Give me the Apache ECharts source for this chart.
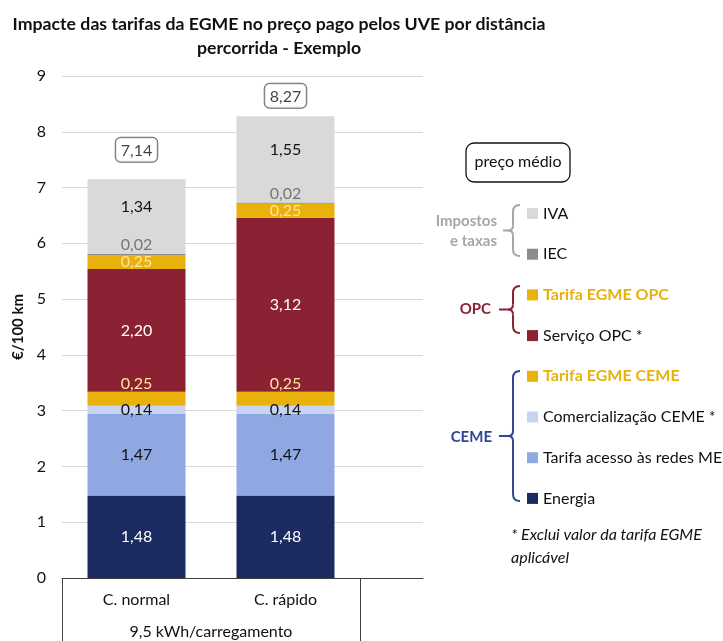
<!DOCTYPE html>
<html>
<head>
<meta charset="utf-8">
<script src="https://cdn.jsdelivr.net/npm/echarts@6/dist/echarts.min.js"></script>
<style>
  html, body { margin: 0; padding: 0; background: #fff; }
  #chart { width: 723px; height: 641px; }
</style>
</head>
<body>
<div id="chart"></div>
<script>
const categories = ['C. normal', 'C. rápido']
const groupLabel = '9,5 kWh/carregamento'

// stack order, bottom to top
const energia = [1.48, 1.48]
const acessoRedes = [1.47, 1.47]
const comercializacao = [0.14, 0.14]
const egmeCeme = [0.25, 0.25]
const servicoOpc = [2.20, 3.12]
const egmeOpc = [0.25, 0.25]
const iec = [0.02, 0.02]
const iva = [1.34, 1.55]
const totals = [7.14, 8.27]

const yTicks = [0, 1, 2, 3, 4, 5, 6, 7, 8, 9]

const FONT = 'Lato, "Open Sans", sans-serif'
const FS = 16
const fmt = v => v.toFixed(2).replace('.', ',')

const myChart = echarts.init(document.getElementById('chart'))

function stackSeries (name, data, color, label) {
  return {
    name,
    type: 'bar',
    stack: 'total',
    xAxisIndex: 1,
    yAxisIndex: 1,
    barWidth: 98,
    data,
    itemStyle: { color },
    label: Object.assign({
      show: true,
      fontFamily: FONT,
      fontSize: FS,
      formatter: p => fmt(p.value)
    }, label)
  }
}

// curly brace, opening to the right
function brace (x, y1, y2, tipX, color) {
  const ym = (y1 + y2) / 2
  const st = { stroke: color, lineWidth: 2, fill: null }
  const curve = (x1, yA, x2, yB, cx, cy) => ({ type: 'bezierCurve', shape: { x1, y1: yA, x2, y2: yB, cpx1: cx, cpy1: cy }, style: st })
  const line = (x1, yA, x2, yB) => ({ type: 'line', shape: { x1, y1: yA, x2, y2: yB }, style: st })
  return {
    type: 'group',
    children: [
      curve(x + 7, y1, x, y1 + 7, x, y1),
      line(x, y1 + 7, x, ym - 5),
      curve(x, ym - 5, x - 5, ym, x, ym),
      line(x - 5, ym, tipX, ym),
      curve(x - 5, ym, x, ym + 5, x, ym),
      line(x, ym + 5, x, y2 - 7),
      curve(x, y2 - 7, x + 7, y2, x, y2)
    ]
  }
}

const EGME = '#E9B10C'
// the two total boxes sit at different heights above their bars
const totalGap = [18, 9]

const option = {
  animation: false,
  textStyle: { fontFamily: FONT },
  title: {
    text: 'Impacte das tarifas da EGME no preço pago pelos UVE por distância\npercorrida - Exemplo',
    left: 274,
    top: 7,
    textAlign: 'center',
    textStyle: { fontFamily: FONT, fontSize: 17.7, fontWeight: 'bold', color: '#111', lineHeight: 24 }
  },
  legend: {
    orient: 'vertical',
    left: 522,
    top: 200,
    itemWidth: 11,
    itemHeight: 11,
    itemGap: 23.7,
    icon: 'rect',
    selectedMode: false,
    data: ['IVA', 'IEC', 'Tarifa EGME OPC', 'Serviço OPC *', 'Tarifa EGME CEME',
      'Comercialização CEME *', 'Tarifa acesso às redes ME', 'Energia'],
    formatter: name => name.startsWith('Tarifa EGME') ? `{b|${name}}` : name,
    textStyle: {
      fontFamily: FONT,
      fontSize: FS,
      color: '#111',
      lineHeight: 17,
      rich: { b: { color: EGME, fontWeight: 'bold', fontSize: FS, fontFamily: FONT } }
    }
  },
  grid: [
    { left: 62, right: 300, top: 76, bottom: 63 },
    { left: 62, width: 298, top: 76, bottom: 63 }
  ],
  xAxis: [
    {
      gridIndex: 0,
      type: 'category',
      data: [''],
      axisTick: { show: false },
      axisLabel: { show: false },
      axisLine: { show: true, lineStyle: { color: '#404040', width: 1 } }
    },
    {
      gridIndex: 1,
      type: 'category',
      data: categories,
      axisTick: { show: false },
      axisLine: { show: false },
      axisLabel: { fontFamily: FONT, fontSize: FS, color: '#111', margin: 14 }
    }
  ],
  yAxis: [
    {
      gridIndex: 0,
      type: 'value',
      min: yTicks[0],
      max: yTicks[yTicks.length - 1],
      interval: 1,
      name: '€/100 km',
      nameLocation: 'middle',
      nameGap: 36,
      nameTextStyle: { fontFamily: FONT, fontSize: 15, fontWeight: 'bold', color: '#111' },
      axisLine: { show: false },
      axisTick: { show: false },
      axisLabel: { fontFamily: FONT, fontSize: FS, color: '#111', margin: 16 },
      splitLine: { lineStyle: { color: '#D9D9D9', width: 1 } }
    },
    {
      gridIndex: 1,
      type: 'value',
      min: yTicks[0],
      max: yTicks[yTicks.length - 1],
      show: false,
      splitLine: { show: false }
    }
  ],
  series: [
    stackSeries('Energia', energia, '#1B2A5F', { position: 'inside', color: '#fff' }),
    stackSeries('Tarifa acesso às redes ME', acessoRedes, '#8FA8E1', { position: 'inside', color: '#111' }),
    stackSeries('Comercialização CEME *', comercializacao, '#C8D4F1', { position: 'inside', color: '#111' }),
    stackSeries('Tarifa EGME CEME', egmeCeme, EGME, { position: 'top', distance: 0, color: '#FFE699' }),
    stackSeries('Serviço OPC *', servicoOpc, '#8B2234', { position: 'inside', color: '#fff' }),
    stackSeries('Tarifa EGME OPC', egmeOpc, EGME, { position: 'inside', color: '#FFE699' }),
    stackSeries('IEC', iec, '#8C8C8C', { position: 'top', distance: 1, color: '#767676' }),
    stackSeries('IVA', iva, '#D9D9D9', { position: 'inside', offset: [0, -10], color: '#111' }),
    {
      name: 'Total',
      type: 'scatter',
      xAxisIndex: 1,
      yAxisIndex: 1,
      symbolSize: 0,
      data: totals.map((v, i) => ({ value: v, label: { distance: totalGap[i] } })),
      z: 10,
      label: {
        show: true,
        position: 'top',
        fontFamily: FONT,
        fontSize: FS,
        color: '#111',
        backgroundColor: '#fff',
        borderColor: '#404040',
        borderWidth: 1,
        borderRadius: 5,
        padding: [5, 5, 3, 5],
        formatter: p => fmt(p.value)
      }
    }
  ],
  graphic: [
    // table under the category axis
    { type: 'line', shape: { x1: 62.5, y1: 578, x2: 62.5, y2: 641 }, style: { stroke: '#404040', lineWidth: 1 } },
    { type: 'line', shape: { x1: 360.5, y1: 578, x2: 360.5, y2: 641 }, style: { stroke: '#404040', lineWidth: 1 } },
    {
      type: 'text', x: 211, y: 632,
      style: { text: groupLabel, font: `${FS}px ${FONT}`, fill: '#111', textAlign: 'center', textVerticalAlign: 'middle' }
    },
    // "preço médio" box
    { type: 'rect', shape: { x: 466, y: 143, width: 104, height: 39, r: 8 }, style: { stroke: '#111', lineWidth: 1.3, fill: '#fff' } },
    {
      type: 'text', x: 518, y: 162,
      style: { text: 'preço médio', font: `${FS}px ${FONT}`, fill: '#111', textAlign: 'center', textVerticalAlign: 'middle' }
    },
    // group braces
    brace(513, 205, 256, 503, '#A6A6A6'),
    {
      type: 'text', x: 497, y: 231,
      style: { text: 'Impostos\ne taxas', font: `bold 15px ${FONT}`, fill: '#A6A6A6', textAlign: 'right', textVerticalAlign: 'middle', lineHeight: 20 }
    },
    brace(513, 286, 333, 499, '#8B2234'),
    {
      type: 'text', x: 491, y: 309,
      style: { text: 'OPC', font: `bold 15px ${FONT}`, fill: '#8B2234', textAlign: 'right', textVerticalAlign: 'middle' }
    },
    brace(513, 371, 501, 499, '#2F4896'),
    {
      type: 'text', x: 492, y: 437,
      style: { text: 'CEME', font: `bold 15px ${FONT}`, fill: '#2F4896', textAlign: 'right', textVerticalAlign: 'middle' }
    },
    // footnote
    {
      type: 'text', x: 511, y: 523,
      style: { text: '* Exclui valor da tarifa EGME\naplicável', font: `italic ${FS}px ${FONT}`, fill: '#111', lineHeight: 23 }
    }
  ]
}

option && myChart.setOption(option)
</script>
</body>
</html>
